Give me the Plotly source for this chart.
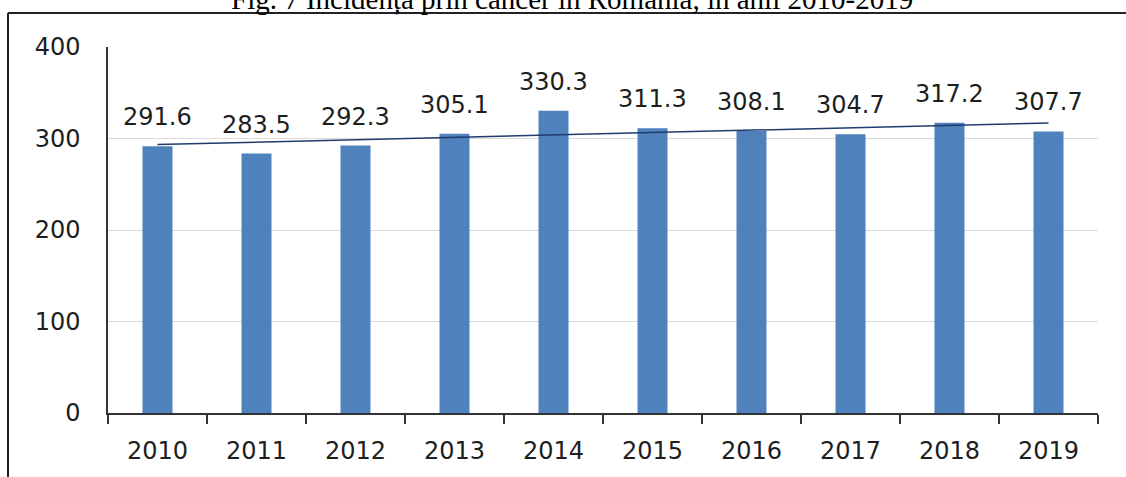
import numpy as np
import plotly.graph_objects as go

years = ["2010", "2011", "2012", "2013", "2014", "2015", "2016", "2017", "2018", "2019"]
values = [291.6, 283.5, 292.3, 305.1, 330.3, 311.3, 308.1, 304.7, 317.2, 307.7]
title_text = "Fig. 7 Incidența prin cancer în România, în anii 2010-2019"

W, H = 1126, 477
L, R, T, B = 108, 28, 47, 64
pw, ph = W - L - R, H - T - B

def px_x(p):
    return (p - L) / pw

def px_y(p):
    return (H - B - p) / ph

xi = np.arange(len(values))
slope, intercept = np.polyfit(xi, values, 1)
trend = (slope * xi + intercept).tolist()

tick_font = dict(family="DejaVu Sans", size=24, color="#1e1e1e")
label_font = dict(family="DejaVu Sans", size=24, color="#1e1e1e")

fig = go.Figure()
fig.add_trace(go.Bar(x=years, y=values, marker=dict(color="#4F81BD", line=dict(width=0)),
                     hoverinfo="x+y"))
fig.add_trace(go.Scatter(x=years, y=trend, mode="lines",
                         line=dict(color="#1F3B6E", width=1.5), hoverinfo="skip"))

for i, v in enumerate(values):
    fig.add_annotation(x=i, y=v, text=f"{v:.1f}", showarrow=False, yshift=29,
                       font=label_font, xanchor="center", yanchor="middle")

fig.add_annotation(xref="paper", yref="paper", x=px_x(572), y=px_y(-1),
                   text=title_text, showarrow=False, xanchor="center", yanchor="middle",
                   font=dict(family="Liberation Serif", size=29, color="#000000"))

# outer frame lines
fig.add_shape(type="line", xref="paper", yref="paper", x0=px_x(8), x1=px_x(1130),
              y0=px_y(13), y1=px_y(13), line=dict(color="#222222", width=2))
fig.add_shape(type="line", xref="paper", yref="paper", x0=px_x(8), x1=px_x(8),
              y0=px_y(13), y1=px_y(480), line=dict(color="#222222", width=2))

fig.update_layout(
    width=W, height=H,
    margin=dict(l=L, r=R, t=T, b=B),
    paper_bgcolor="white", plot_bgcolor="white",
    showlegend=False, bargap=0.697,
    font=tick_font,
)
fig.update_xaxes(type="category", range=[-0.5, len(years) - 0.5], automargin=False,
                 showline=True, linecolor="#333333", linewidth=1.5,
                 ticks="outside", tickson="boundaries", ticklen=9, tickwidth=1.5,
                 tickcolor="#333333", showgrid=False, ticklabelstandoff=15,
                 tickangle=0, tickfont=tick_font)
fig.update_yaxes(range=[0, 400], tickvals=[0, 100, 200, 300, 400], showline=True,
                 automargin=False,
                 linecolor="#333333", linewidth=1.5, showgrid=True, gridcolor="#d9d9d9",
                 gridwidth=1, ticks="", ticklabelstandoff=21, zeroline=False,
                 tickfont=tick_font)

fig.write_html("out.html", config={"displayModeBar": False},
               post_script="document.body.style.margin='0';document.body.style.overflow='hidden';")
